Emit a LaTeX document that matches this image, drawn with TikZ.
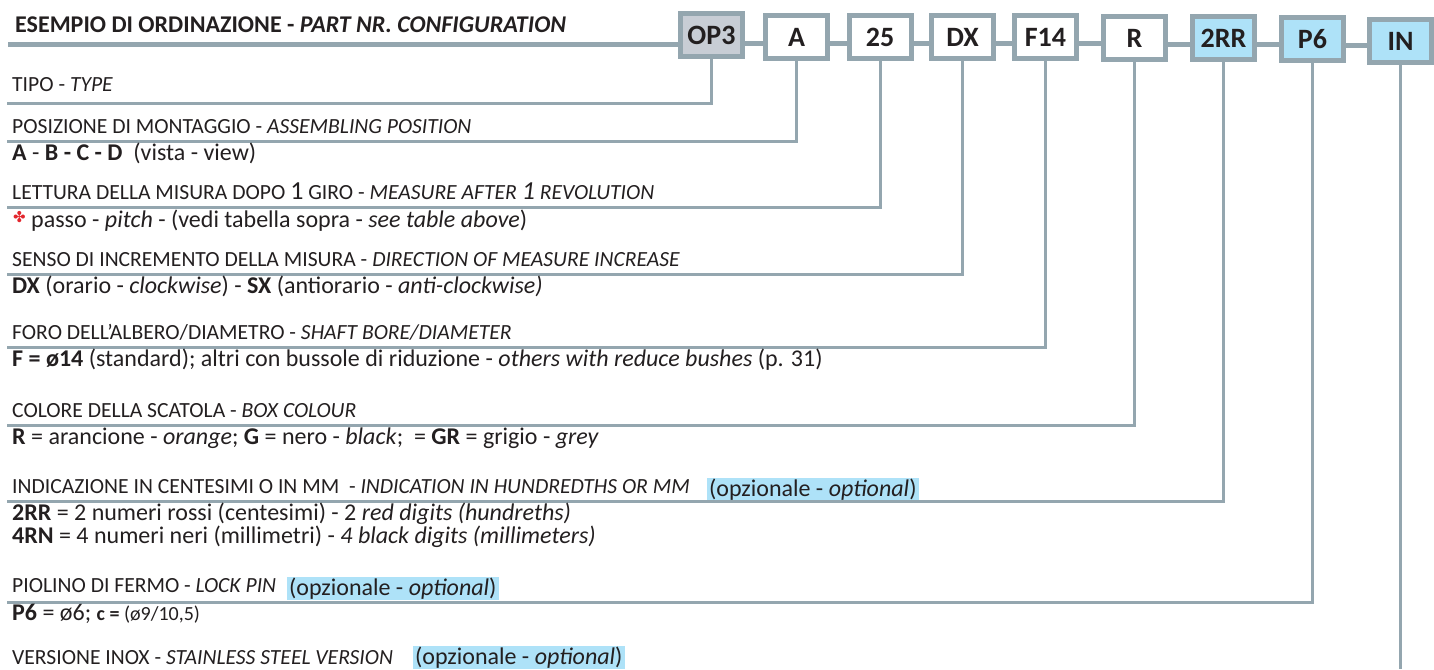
\documentclass[tikz,border=0pt]{standalone}
\usepackage{fontspec}
\setmainfont{Carlito}
\newfontfamily\dejavu{DejaVu Sans}
\definecolor{linegray}{HTML}{94A6AF}
\definecolor{opgray}{HTML}{C8CDD5}
\definecolor{lblue}{HTML}{AEE2F8}
\definecolor{txt}{HTML}{231F20}
\definecolor{starred}{HTML}{E3262D}
\newcommand\hdsize{\fontsize{21.6}{23}\selectfont}
\newcommand\bigone{{\fontsize{26}{26}\selectfont 1}}
\tikzset{
  codebox/.style={draw=linegray, line width=5pt, minimum width=62pt, minimum height=43pt,
    inner sep=0pt, font=\fontsize{28}{28}\selectfont\bfseries, text=txt},
  chain/.style={draw=linegray, line width=5pt},
  lead/.style={draw=linegray, line width=3pt},
  heading/.style={anchor=base west, inner sep=0pt, font=\hdsize, text=txt},
  body/.style={anchor=base west, inner sep=0pt, font=\fontsize{24}{24}\selectfont, text=txt},
  hl/.style={anchor=base west, fill=lblue, inner xsep=2pt, inner ysep=0pt,
    text height=18pt, text depth=5pt, font=\fontsize{24}{24}\selectfont, text=txt}
}
\begin{document}
\begin{tikzpicture}[x=1pt,y=-1pt]
\useasboundingbox (0,0) rectangle (1434,669);
\begin{scope}
\clip (0,0) rectangle (1434,669);
% code boxes
\node[codebox, fill=opgray] (op3) at (711.5,35.5) {OP3};
\node[codebox, fill=white] (a) at (796.5,37.5) {A};
\node[codebox, fill=white] (n25) at (880,37.5) {25};
\node[codebox, fill=white] (dx) at (962.5,37.5) {DX};
\node[codebox, fill=white] (f14) at (1045.5,37.5) {F14};
\node[codebox, fill=white] (r) at (1134.5,38) {R};
\node[codebox, fill=lblue] (rr) at (1223.5,38) {2RR};
\node[codebox, fill=lblue] (p6) at (1312.5,39) {P6};
\node[codebox, fill=lblue] (in) at (1400.5,41) {IN};

% header
\node[anchor=base west, inner sep=0pt, font=\fontsize{24}{24}\selectfont\bfseries, text=txt] (hdr) at (15,33)
  {ESEMPIO DI ORDINAZIONE - \textit{PART NR. CONFIGURATION}};
\coordinate (hstart) at (8,44.5);
\draw[chain] (hstart) -- (op3.west |- hstart);
\draw[chain] (op3.east |- 0,44) -- (a.west |- 0,44);
\draw[chain] (a.east |- 0,44) -- (n25.west |- 0,44);
\draw[chain] (n25.east |- 0,44) -- (dx.west |- 0,44);
\draw[chain] (dx.east |- 0,44) -- (f14.west |- 0,44);
\draw[chain] (f14.east |- 0,44) -- (r.west |- 0,44);
\draw[chain] (r.east |- 0,44.5) -- (rr.west |- 0,44.5);
\draw[chain] (rr.east |- 0,45) -- (p6.west |- 0,45);
\draw[chain] (p6.east |- 0,45.5) -- (in.west |- 0,45.5);

% TIPO
\node[heading] (tipo) at (12,92) {TIPO - \textit{TYPE}};
\coordinate (tipoL) at (7,103.5);
\draw[lead] (op3.south) -- (op3.south |- tipoL) -- (tipoL);

% POSIZIONE
\node[heading] (pos) at (12,133) {POSIZIONE DI MONTAGGIO - \textit{ASSEMBLING POSITION}};
\coordinate (posL) at (7,141);
\draw[lead] (a.south) -- (a.south |- posL) -- (posL);
\node[body] (posB) at (12,160) {\textbf{A} - \textbf{B - C - D}\ \ (vista - view)};

% LETTURA
\node[heading] (let) at (12,199) {LETTURA DELLA MISURA DOPO \bigone\ GIRO - \textit{MEASURE AFTER \bigone\ REVOLUTION}};
\coordinate (letL) at (7,207);
\draw[lead] (n25.south) -- (n25.south |- letL) -- (letL);
\node[body] (letB) at (13,227) {\raisebox{5pt}{\dejavu\fontsize{15}{15}\selectfont\color{starred}✤}\ passo - \textit{pitch} - (vedi tabella sopra - \textit{see table above})};

% SENSO
\node[heading] (sen) at (12,266) {SENSO DI INCREMENTO DELLA MISURA - \textit{DIRECTION OF MEASURE INCREASE}};
\coordinate (senL) at (7,274);
\draw[lead] (dx.south) -- (dx.south |- senL) -- (senL);
\node[body] (senB) at (12,293) {\textbf{DX} (orario - \textit{clockwise}) - \textbf{SX} (antiorario - \textit{anti-clockwise)}};

% FORO
\node[heading] (foro) at (12,339) {FORO DELL’ALBERO/DIAMETRO - \textit{SHAFT BORE/DIAMETER}};
\coordinate (foroL) at (7,347);
\draw[lead] (f14.south) -- (f14.south |- foroL) -- (foroL);
\node[body] (foroB) at (12,366) {\textbf{F = ø14} (standard); altri con bussole di riduzione - \textit{others with reduce bushes} (p. 31)};

% COLORE
\node[heading] (col) at (12,417) {COLORE DELLA SCATOLA - \textit{BOX COLOUR}};
\coordinate (colL) at (7,425);
\draw[lead] (r.south) -- (r.south |- colL) -- (colL);
\node[body] (colB) at (12,444) {\textbf{R} = arancione - \textit{orange}; \textbf{G} = nero - \textit{black};\ \ = \textbf{GR} = grigio - \textit{grey}};

% INDICAZIONE
\node[heading] (ind) at (12,493) {INDICAZIONE IN CENTESIMI O IN MM\ \ - \textit{INDICATION IN HUNDREDTHS OR MM}};
\node[hl] (indOpt) at (707,496) {(opzionale - \textit{optional})};
\coordinate (indL) at (7,501);
\draw[lead] (rr.south) -- (rr.south |- indL) -- (indL);
\node[body] (indB1) at (12,520) {\textbf{2RR} = 2 numeri rossi (centesimi) - 2 \textit{red digits (hundreths)}};
\node[body] (indB2) at (12,543) {\textbf{4RN} = 4 numeri neri (millimetri) - \textit{4 black digits (millimeters)}};

% PIOLINO
\node[heading] (pio) at (12,592) {PIOLINO DI FERMO - \textit{LOCK PIN}};
\node[hl] (pioOpt) at (287,595) {(opzionale - \textit{optional})};
\coordinate (pioL) at (7,602);
\draw[lead] (p6.south) -- (p6.south |- pioL) -- (pioL);
\node[body] (pioB) at (12,620) {\textbf{P6} = ø6; {\fontsize{20}{20}\selectfont\textbf{c =} (ø9/10,5)}};

% VERSIONE
\node[heading] (ver) at (12,664) {VERSIONE INOX - \textit{STAINLESS STEEL VERSION}};
\node[hl] (verOpt) at (413,664) {(opzionale - \textit{optional})};
\coordinate (inEnd) at (1400.5,669);
\draw[lead] (in.south) -- (inEnd);
\end{scope}
\end{tikzpicture}
\end{document}
